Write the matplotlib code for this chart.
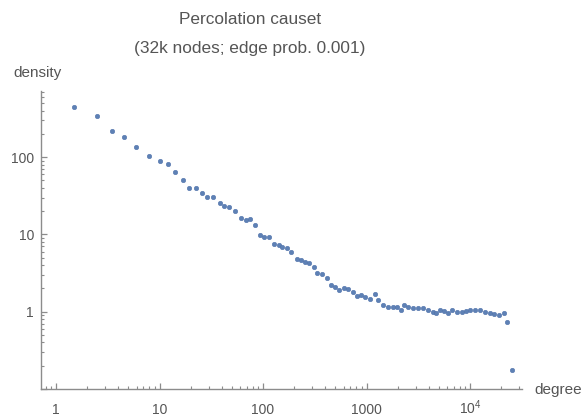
import matplotlib
matplotlib.use("Agg")
import matplotlib.pyplot as plt
from matplotlib.ticker import LogLocator, FixedLocator, FixedFormatter, NullFormatter

degree = [1.5, 2.5, 3.5, 4.5, 5.9, 7.9, 10.2, 12.2, 14.0, 16.8, 19.3, 22.4, 25.7, 28.8,
          32.7, 38.4, 42.3, 46.9, 54.0, 60.9, 68.1, 74.9, 83.7, 92.9, 102, 115, 129, 143,
          154, 169, 188, 213, 233, 255, 280, 309, 332, 369, 413, 454, 496, 546, 606, 667,
          736, 815, 891, 968, 1081, 1217, 1301, 1453, 1614, 1791, 1958, 2139, 2302, 2534,
          2833, 3165, 3537, 3953, 4418, 4693, 5130, 5608, 6168, 6743, 7434, 8312, 9147,
          10000, 11180, 12490, 13960, 15610, 17170, 19200, 21310, 22630, 25300]
density = [452, 343, 221, 183, 137, 103, 89.5, 81.2, 64, 50.4, 39.7, 39.7, 34.5, 30.9,
           30.9, 25.6, 23.4, 22.5, 20.3, 16.2, 15.4, 15.7, 13.3, 9.9, 9.15, 9.15, 7.53, 7.42,
           6.89, 6.59, 5.97, 4.79, 4.63, 4.40, 4.24, 3.83, 3.14, 3.08, 2.76, 2.24, 2.09, 1.91,
           2.05, 1.95, 1.80, 1.60, 1.66, 1.55, 1.46, 1.71, 1.42, 1.21, 1.16, 1.16, 1.16, 1.05,
           1.21, 1.15, 1.12, 1.12, 1.12, 1.05, 0.98, 0.95, 1.05, 1.02, 0.95, 1.05, 0.98, 0.98,
           1.02, 1.05, 1.05, 1.05, 1.0, 0.95, 0.93, 0.91, 0.95, 0.74, 0.176]

x_major = [1, 10, 100, 1000, 10000]
x_labels = ["1", "10", "100", "1000", r"$\mathregular{10^{4}}$"]
y_major = [0.1, 1, 10, 100]
y_labels = ["", "1", "10", "100"]

plt.rcParams['font.family'] = ['Liberation Sans', 'DejaVu Sans']
plt.rcParams['mathtext.fontset'] = 'custom'
plt.rcParams['mathtext.rm'] = 'Liberation Sans'

axis_col = '#8c8c8c'
text_col = '#555555'

fig = plt.figure(figsize=(5.82, 4.17), dpi=100)
ax = fig.add_axes([41/582, 1-389/417, (522-41)/582, (389-91)/417])
ax.set_xscale('log')
ax.set_yscale('log')
ax.set_xlim(0.716, 31800)
ax.set_ylim(0.1, 720)

ax.plot(degree, density, 'o', color='#5E81B5', ms=3.3, mec='#4a6ca8', mew=0.3, clip_on=False)

for s in ['top', 'right']:
    ax.spines[s].set_visible(False)
for s in ['left', 'bottom']:
    ax.spines[s].set_color(axis_col)
    ax.spines[s].set_linewidth(1.0)

ax.xaxis.set_major_locator(FixedLocator(x_major))
ax.xaxis.set_major_formatter(FixedFormatter(x_labels))
ax.xaxis.set_minor_locator(LogLocator(base=10, subs=range(2, 10), numticks=20))
ax.xaxis.set_minor_formatter(NullFormatter())
ax.yaxis.set_major_locator(FixedLocator(y_major))
ax.yaxis.set_major_formatter(FixedFormatter(y_labels))
ax.yaxis.set_minor_locator(LogLocator(base=10, subs=range(2, 10), numticks=20))
ax.yaxis.set_minor_formatter(NullFormatter())

ax.tick_params(which='major', direction='in', length=4, width=0.9, color=axis_col,
               labelcolor=text_col, labelsize=10)
ax.tick_params(which='minor', direction='in', length=2.5, width=0.8, color=axis_col)
ax.tick_params(axis='x', which='major', pad=18)
ax.tick_params(axis='y', which='major', pad=5)
for lbl in ax.get_xticklabels():
    lbl.set_verticalalignment('baseline')

fig.text(250/582, 1-20/417, "Percolation causet", ha='center', va='center',
         fontsize=12.4, color=text_col)
fig.text(250/582, 1-49/417, "(32k nodes; edge prob. 0.001)", ha='center', va='center',
         fontsize=12.4, color=text_col)
fig.text(13/582, 1-73/417, "density", ha='left', va='center', fontsize=11, color=text_col)
fig.text(534/582, 1-390/417, "degree", ha='left', va='center', fontsize=11, color=text_col)

fig.savefig("out.png", dpi=100)
